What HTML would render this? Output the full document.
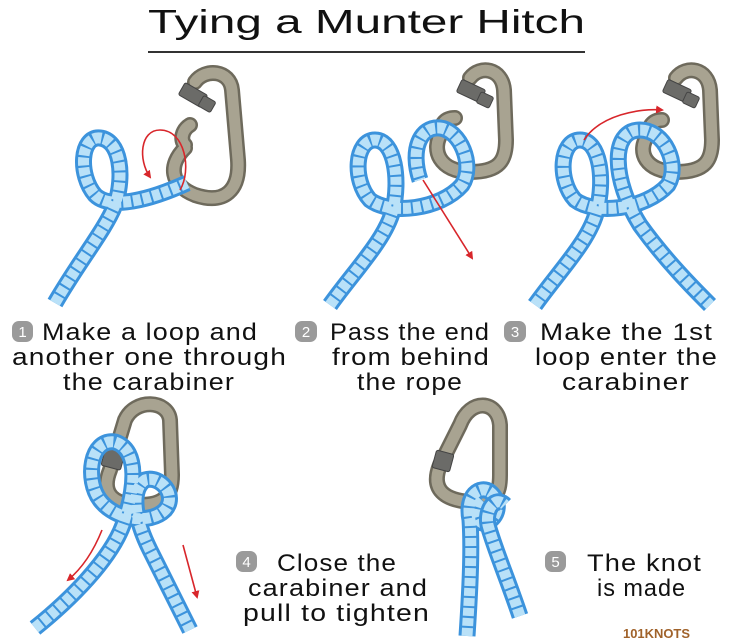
<!DOCTYPE html>
<html><head><meta charset="utf-8"><style>
html,body{margin:0;padding:0;background:#fff;}
svg{display:block}
text{font-family:"Liberation Sans","DejaVu Sans",sans-serif;fill:#111}
</style></head><body>
<svg width="730" height="643" viewBox="0 0 730 643" xmlns="http://www.w3.org/2000/svg">
<defs>
<marker id="ah" markerWidth="8" markerHeight="8" refX="6" refY="4" orient="auto" markerUnits="userSpaceOnUse"><path d="M0,0 L8,4 L0,8 z" fill="#d8262b"/></marker>
</defs>
<style>
.ro{fill:none;stroke:#3c93dc;stroke-width:17;stroke-linecap:butt;stroke-linejoin:round}
.ri{fill:none;stroke:#b9e1f8;stroke-width:11;stroke-dasharray:8 2;stroke-linecap:butt;stroke-linejoin:round}
.co{fill:none;stroke:#6e6a5c;stroke-width:16;stroke-linecap:round;stroke-linejoin:round}
.ci{fill:none;stroke:#a8a391;stroke-width:11;stroke-linecap:round;stroke-linejoin:round}
.ar{fill:none;stroke:#d8262b;stroke-width:1.6}
.gate{fill:#6b6b68;stroke:#444;stroke-width:1}
.badge{fill:#9a9a9a}
.bn{font-size:15px;fill:#fff;text-anchor:middle}
.cap{font-size:24px;letter-spacing:1px}
</style>

<!-- Title -->
<text x="148" y="33" font-size="33" textLength="437" lengthAdjust="spacingAndGlyphs">Tying a Munter Hitch</text>
<line x1="148" y1="52" x2="585" y2="52" stroke="#333" stroke-width="2"/>

<!-- Panel 1 -->
<path class="co" d="M190,125 C182,130 180,140 185,145 M185,148 C168,165 170,185 195,195 C225,205 240,190 238,160 L232,90 C230,70 205,68 195,82"/>
<path class="ci" d="M190,125 C182,130 180,140 185,145 M185,148 C168,165 170,185 195,195 C225,205 240,190 238,160 L232,90 C230,70 205,68 195,82"/>
<rect class="gate" x="180" y="88" width="26" height="14" rx="2" transform="rotate(30 193 95)"/>
<rect class="gate" x="200" y="98" width="14" height="12" rx="2" transform="rotate(30 207 104)"/>
<path class="ro" d="M55,303 C80,260 105,230 115,205 C125,175 120,140 100,138 C80,136 78,175 95,195 C110,210 150,200 187,183"/>
<path class="ri" d="M55,303 C80,260 105,230 115,205 C125,175 120,140 100,138 C80,136 78,175 95,195 C110,210 150,200 187,183"/>
<path class="ar" d="M180,190 C192,170 185,130 160,130 C140,130 138,160 150,177" marker-end="url(#ah)"/>

<!-- Panel 2 -->
<path class="co" d="M455,118 C445,118 440,125 443,130 M442,132 C430,150 440,172 470,172 C500,172 506,160 506,140 L504,90 C502,68 480,65 470,78"/>
<path class="ci" d="M455,118 C445,118 440,125 443,130 M442,132 C430,150 440,172 470,172 C500,172 506,160 506,140 L504,90 C502,68 480,65 470,78"/>
<rect class="gate" x="458" y="84" width="26" height="14" rx="2" transform="rotate(25 471 91)"/>
<rect class="gate" x="478" y="94" width="14" height="12" rx="2" transform="rotate(25 485 100)"/>
<path class="ro" d="M330,305 C355,270 385,240 393,210 C400,180 395,140 375,140 C355,140 352,180 370,200 C390,215 440,210 462,185 C475,165 460,130 440,128 C420,126 410,150 420,180"/>
<path class="ri" d="M330,305 C355,270 385,240 393,210 C400,180 395,140 375,140 C355,140 352,180 370,200 C390,215 440,210 462,185 C475,165 460,130 440,128 C420,126 410,150 420,180"/>
<line class="ar" x1="423" y1="180" x2="472" y2="258" marker-end="url(#ah)"/>

<!-- Panel 3 -->
<path class="co" d="M662,120 C652,120 648,128 650,132 M648,135 C636,152 646,172 676,172 C706,172 712,160 712,140 L710,90 C708,68 686,65 676,78"/>
<path class="ci" d="M662,120 C652,120 648,128 650,132 M648,135 C636,152 646,172 676,172 C706,172 712,160 712,140 L710,90 C708,68 686,65 676,78"/>
<rect class="gate" x="664" y="84" width="26" height="14" rx="2" transform="rotate(25 677 91)"/>
<rect class="gate" x="684" y="94" width="14" height="12" rx="2" transform="rotate(25 691 100)"/>
<path class="ro" d="M535,305 C560,270 590,240 597,210 C605,180 600,140 580,140 C560,140 557,180 575,200 C595,215 645,210 668,185 C680,165 665,130 640,130 C610,130 612,180 640,225 C665,260 695,290 710,305"/>
<path class="ri" d="M535,305 C560,270 590,240 597,210 C605,180 600,140 580,140 C560,140 557,180 575,200 C595,215 645,210 668,185 C680,165 665,130 640,130 C610,130 612,180 640,225 C665,260 695,290 710,305"/>
<path class="ar" d="M584,140 C600,115 640,108 662,110" marker-end="url(#ah)"/>

<!-- Panel 4 -->
<path class="co" d="M125,420 L110,470 C100,495 115,505 140,505 C165,505 172,495 172,475 L170,420 C168,400 135,398 125,420"/>
<path class="ci" d="M125,420 L110,470 C100,495 115,505 140,505 C165,505 172,495 172,475 L170,420 C168,400 135,398 125,420"/>
<rect class="gate" x="103" y="450" width="20" height="18" rx="2" transform="rotate(15 113 459)"/>
<path class="ro" d="M35,628 C70,600 110,560 123,525 C135,490 140,450 115,442 C90,438 85,480 100,500 C115,520 150,525 165,510 C178,495 160,475 145,480 C130,490 135,520 150,550 C165,580 180,610 190,630"/>
<path class="ri" d="M35,628 C70,600 110,560 123,525 C135,490 140,450 115,442 C90,438 85,480 100,500 C115,520 150,525 165,510 C178,495 160,475 145,480 C130,490 135,520 150,550 C165,580 180,610 190,630"/>
<path class="ar" d="M102,530 C92,555 80,570 68,580" marker-end="url(#ah)"/>
<line class="ar" x1="183" y1="545" x2="197" y2="597" marker-end="url(#ah)"/>

<!-- Panel 5 -->
<path class="co" d="M460,425 L440,465 C430,490 445,500 470,502 C495,503 500,495 500,475 L500,425 C498,400 470,398 460,425"/>
<path class="ci" d="M460,425 L440,465 C430,490 445,500 470,502 C495,503 500,495 500,475 L500,425 C498,400 470,398 460,425"/>
<rect class="gate" x="434" y="452" width="18" height="18" rx="2" transform="rotate(15 443 461)"/>
<path class="ro" d="M467,636 C470,590 472,550 470,520 C465,495 480,485 490,492 C500,500 500,515 488,522 C478,528 472,510 482,500"/>
<path class="ri" d="M467,636 C470,590 472,550 470,520 C465,495 480,485 490,492 C500,500 500,515 488,522 C478,528 472,510 482,500"/>
<path class="ro" d="M520,616 C508,580 495,550 488,525 C485,510 495,495 505,505"/>
<path class="ri" d="M520,616 C508,580 495,550 488,525 C485,510 495,495 505,505"/>

<!-- Captions -->
<rect class="badge" x="12" y="321" width="21" height="21" rx="7"/><text class="bn" x="22.5" y="337">1</text>
<text class="cap" x="42" y="340" textLength="216" lengthAdjust="spacingAndGlyphs">Make a loop and</text>
<text class="cap" x="12" y="365" textLength="275" lengthAdjust="spacingAndGlyphs">another one through</text>
<text class="cap" x="63" y="390" textLength="172" lengthAdjust="spacingAndGlyphs">the carabiner</text>

<rect class="badge" x="295" y="321" width="22" height="21" rx="7"/><text class="bn" x="306" y="337">2</text>
<text class="cap" x="330" y="340" textLength="160" lengthAdjust="spacingAndGlyphs">Pass the end</text>
<text class="cap" x="332" y="365" textLength="158" lengthAdjust="spacingAndGlyphs">from behind</text>
<text class="cap" x="357" y="390" textLength="106" lengthAdjust="spacingAndGlyphs">the rope</text>

<rect class="badge" x="504" y="321" width="22" height="21" rx="7"/><text class="bn" x="515" y="337">3</text>
<text class="cap" x="540" y="340" textLength="173" lengthAdjust="spacingAndGlyphs">Make the 1st</text>
<text class="cap" x="535" y="365" textLength="183" lengthAdjust="spacingAndGlyphs">loop enter the</text>
<text class="cap" x="562" y="390" textLength="128" lengthAdjust="spacingAndGlyphs">carabiner</text>

<rect class="badge" x="236" y="551" width="21" height="21" rx="7"/><text class="bn" x="246.5" y="567">4</text>
<text class="cap" x="277" y="571" textLength="120" lengthAdjust="spacingAndGlyphs">Close the</text>
<text class="cap" x="248" y="596" textLength="180" lengthAdjust="spacingAndGlyphs">carabiner and</text>
<text class="cap" x="243" y="621" textLength="187" lengthAdjust="spacingAndGlyphs">pull to tighten</text>

<rect class="badge" x="545" y="551" width="21" height="21" rx="7"/><text class="bn" x="555.5" y="567">5</text>
<text class="cap" x="587" y="571" textLength="115" lengthAdjust="spacingAndGlyphs">The knot</text>
<text class="cap" x="597" y="596" textLength="89" lengthAdjust="spacingAndGlyphs">is made</text>

<text x="623" y="638" font-size="13" font-weight="bold" style="fill:#a0622a" textLength="67" lengthAdjust="spacingAndGlyphs">101KNOTS</text>
</svg>
</body></html>
